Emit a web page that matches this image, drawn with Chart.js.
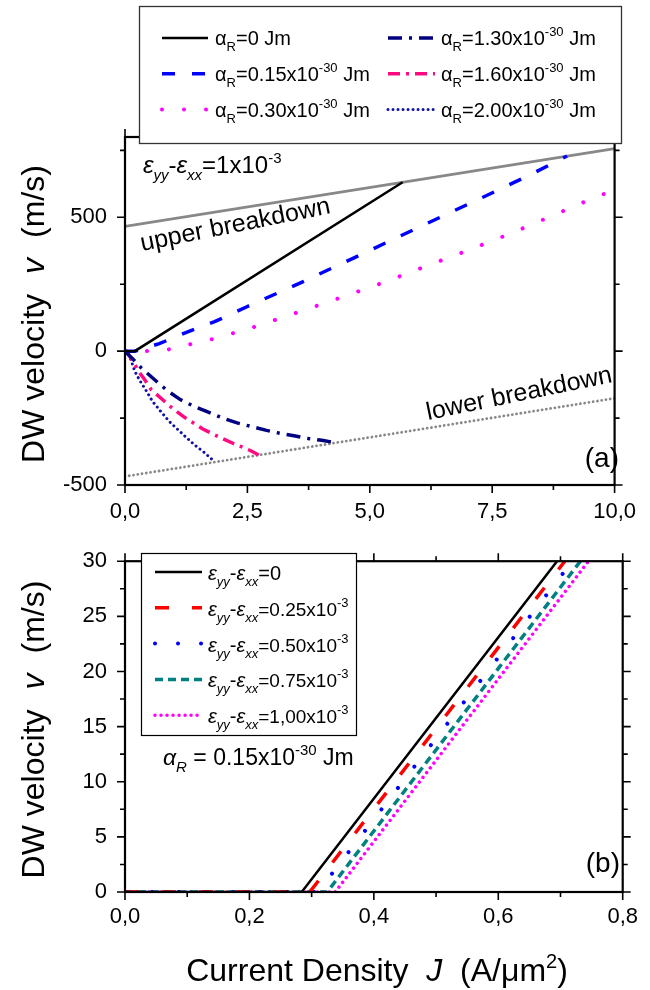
<!DOCTYPE html>
<html><head><meta charset="utf-8">
<script src="https://cdn.jsdelivr.net/npm/chart.js@4.4.1/dist/chart.umd.min.js"></script>
<style>
html,body{margin:0;padding:0;background:#fff;}
#wrap{position:relative;width:650px;height:990px;overflow:hidden;}
#c1{position:absolute;left:0;top:0;}
#c2{position:absolute;left:0;top:530px;}
</style></head>
<body><div id="wrap"><canvas id="c1" width="650" height="530"></canvas><canvas id="c2" width="650" height="460"></canvas></div>
<script>
// ---------------- DATA : panel (a) ----------------
const jA000 = [0, 0.2, 5.67];
const vA000 = [0, 0, 631];
const jA015 = [0, 0.2, 0.7, 1.28, 1.83, 2.49, 3.64, 4.81, 6.04, 7.3, 8.29, 9.03];
const vA015 = [0, 0, 28, 72, 110, 166, 260, 360, 466, 574, 660, 729];
const jA030 = [0, 0.43, 0.88, 1.31, 1.76, 2.19, 2.65, 3.48, 4.39, 5.26, 6.13, 7.04, 7.91, 8.78, 9.65, 10];
const vA030 = [0, 0, 6, 25, 44, 66, 91, 142, 199, 255, 316, 379, 442, 510, 579, 600];
const jA130 = [0, 0.17, 0.33, 0.6, 0.86, 1.13, 1.43, 1.69, 2.01, 2.29, 2.59, 2.89, 3.17, 3.45, 3.74, 4.02, 4.3];
const vA130 = [0, -31, -62, -106, -147, -181, -208, -227, -251, -268, -282, -296, -307, -316, -326, -333, -342];
const jA160 = [0, 0.03, 0.2, 0.3, 0.4, 0.53, 0.73, 0.9, 1.06, 1.23, 1.43, 1.59, 1.79, 1.96, 2.19, 2.39, 2.56, 2.74];
const vA160 = [0, 0, -50, -81, -106, -143, -175, -203, -226, -249, -272, -291, -309, -324, -343, -358, -371, -389];
const jA200 = [0, 0.07, 0.13, 0.2, 0.3, 0.43, 0.56, 0.73, 0.9, 1.08, 1.26, 1.46, 1.63, 1.83];
const vA200 = [0, -12, -37, -75, -109, -147, -187, -225, -262, -293, -324, -356, -380, -413];
const jUpper = [0, 10];
const vUpper = [466, 757];
const jLower = [0, 10];
const vLower = [-468, -176];
const alphaLabels = ['0', '0.15', '0.30', '1.30', '1.60', '2.00'];

const topXTicks = [0, 1.25, 2.5, 3.75, 5, 6.25, 7.5, 8.75, 10];
const topXLabelVals = [0, 2.5, 5, 7.5, 10];
const topXLabels = ['0,0', '2,5', '5,0', '7,5', '10,0'];
const topYTicks = [-500, -250, 0, 250, 500, 750];
const topYLabelVals = [-500, 0, 500];
const topYLabels = ['-500', '0', '500'];

// ---------------- DATA : panel (b) ----------------
const jS000 = [0, 0.284, 0.6945];
const vS000 = [0, 0, 30];
const jS025 = [0, 0.297, 0.707];
const vS025 = [0, 0, 30];
const jS050 = [0, 0.31, 0.719];
const vS050 = [0, 0, 30];
const jS075 = [0, 0.325, 0.732];
const vS075 = [0, 0, 30];
const jS100 = [0, 0.338, 0.745];
const vS100 = [0, 0, 30];
const epsLabels = ['0', '0.25', '0.50', '0.75', '1,00'];

const botXTicks = [0, 0.1, 0.2, 0.3, 0.4, 0.5, 0.6, 0.7, 0.8];
const botXLabelVals = [0, 0.2, 0.4, 0.6, 0.8];
const botXLabels = ['0,0', '0,2', '0,4', '0,6', '0,8'];
const botYTicks = [0, 2.5, 5, 7.5, 10, 12.5, 15, 17.5, 20, 22.5, 25, 27.5, 30];
const botYLabelVals = [0, 5, 10, 15, 20, 25, 30];
const botYLabels = ['0', '5', '10', '15', '20', '25', '30'];

// ---------------- helpers ----------------
const FONT = "'Liberation Sans', Arial, sans-serif";
const pts = (xs, ys) => xs.map((x, i) => ({x: x, y: ys[i]}));

const STY = {
  a0:   {c:'#000000', w:2.5, d:[], cap:'butt'},
  a015: {c:'#0000ff', w:3.5, d:[13,17], cap:'butt'},
  a030: {c:'#ff00ff', w:4, d:[0.01,22], cap:'round'},
  a130: {c:'#000080', w:3.5, d:[14,7,3,7], cap:'butt'},
  a160: {c:'#ff0a80', w:3.5, d:[12,6,3,6], cap:'butt'},
  a200: {c:'#1010a8', w:3, d:[0.01,5], cap:'round'},
  up:   {c:'#888888', w:2.8, d:[], cap:'butt'},
  low:  {c:'#888888', w:2.8, d:[0.01,4.3], cap:'round'},
  s0:   {c:'#000000', w:2.5, d:[], cap:'butt'},
  s025: {c:'#ff0000', w:3.5, d:[14,23], cap:'butt'},
  s050: {c:'#0000ff', w:4, d:[0.01,27], cap:'round', ld:[0.01,23]},
  s075: {c:'#008080', w:3.5, d:[8,5], cap:'butt'},
  s100: {c:'#ff00ff', w:3.5, d:[0.01,6], cap:'round'}
};
function ds(label, data, s) {
  return {label: label, data: data, borderColor: s.c, backgroundColor: s.c, borderWidth: s.w,
    borderDash: s.d, borderCapStyle: s.cap, pointRadius: 0, tension: 0, fill: false};
}
function rich(ctx, x, y, parts) {
  let cx = x;
  for (const p of parts) {
    ctx.font = (p[3] ? 'italic ' : '') + p[1] + 'px ' + FONT;
    ctx.fillText(p[0], cx, y + (p[2] || 0));
    cx += ctx.measureText(p[0]).width;
  }
  return cx;
}
function richWidth(ctx, parts) {
  let w = 0;
  for (const p of parts) { ctx.font = (p[3] ? 'italic ' : '') + p[1] + 'px ' + FONT; w += ctx.measureText(p[0]).width; }
  return w;
}
function sample(ctx, x1, x2, y, s) {
  ctx.save();
  ctx.strokeStyle = s.c; ctx.lineWidth = s.w; ctx.setLineDash(s.ld || s.d); ctx.lineCap = s.cap;
  ctx.beginPath(); ctx.moveTo(x1, y); ctx.lineTo(x2, y); ctx.stroke();
  ctx.restore();
}
function frameAndTicks(chart, xt, xm, yt, ym) {
  const {ctx, chartArea: a, scales: {x, y}} = chart;
  ctx.save();
  ctx.strokeStyle = '#000'; ctx.lineWidth = 1.6; ctx.setLineDash([]);
  ctx.beginPath();
  xt.forEach(v => {
    const p = x.getPixelForValue(v); const L = xm.includes(v) ? 8 : 5;
    ctx.moveTo(p, a.bottom); ctx.lineTo(p, a.bottom + L);
    ctx.moveTo(p, a.top); ctx.lineTo(p, a.top - L);
  });
  yt.forEach(v => {
    const p = y.getPixelForValue(v); const L = ym.includes(v) ? 8 : 5;
    ctx.moveTo(a.left, p); ctx.lineTo(a.left - L, p);
    ctx.moveTo(a.right, p); ctx.lineTo(a.right + L, p);
  });
  ctx.stroke();
  ctx.lineWidth = 2.2;
  ctx.strokeRect(a.left, a.top, a.right - a.left, a.bottom - a.top);
  ctx.restore();
}
function yTitle(ctx, xb, cy) {
  const gap = 20;
  const p1 = [['DW velocity', 32]], p2 = [['v', 32, 0, true]], p3 = [['(m/s)', 32]];
  const w = richWidth(ctx, p1) + gap + richWidth(ctx, p2) + gap + richWidth(ctx, p3);
  ctx.save(); ctx.translate(xb, cy); ctx.rotate(-Math.PI / 2);
  ctx.fillStyle = '#000'; ctx.textBaseline = 'alphabetic'; ctx.textAlign = 'left';
  let cx = -w / 2;
  cx = rich(ctx, cx, 0, p1) + gap;
  cx = rich(ctx, cx, 0, p2) + gap;
  rich(ctx, cx, 0, p3);
  ctx.restore();
}
function scaleOpts(min, max, tickVals, labelVals, labels, isX, pad, fitSize) {
  return {
    type: 'linear', min: min, max: max,
    afterBuildTicks: s => { s.ticks = tickVals.map(v => ({value: v})); },
    afterFit: s => { if (isX) s.height = fitSize; else s.width = fitSize; },
    grid: {display: false, drawTicks: false}, border: {display: false},
    ticks: {autoSkip: false, maxRotation: 0, minRotation: 0, padding: pad, color: '#000',
      font: {family: FONT, size: 22},
      callback: v => { const i = labelVals.indexOf(v); return i >= 0 ? labels[i] : ''; }}
  };
}

// ---------------- panel (a) ----------------
const decorA = {
  id: 'decorA',
  afterDraw(chart) {
    const ctx = chart.ctx;
    frameAndTicks(chart, topXTicks, topXLabelVals, topYTicks, topYLabelVals);
    ctx.save();
    ctx.fillStyle = '#000'; ctx.textBaseline = 'alphabetic'; ctx.textAlign = 'left';
    rich(ctx, 143, 173, [['ε', 24, 0, true], ['yy', 15, 7, true], ['-', 24], ['ε', 24, 0, true], ['xx', 15, 7, true], ['=1x10', 24], ['-3', 15, -10]]);
    ctx.font = '25px ' + FONT;
    ctx.save(); ctx.translate(142, 251); ctx.rotate(-11.3 * Math.PI / 180); ctx.fillText('upper breakdown', 0, 0); ctx.restore();
    ctx.save(); ctx.translate(428, 420); ctx.rotate(-11.6 * Math.PI / 180); ctx.fillText('lower breakdown', 0, 0); ctx.restore();
    ctx.font = '28px ' + FONT; ctx.textAlign = 'right';
    ctx.fillText('(a)', 619, 467);
    ctx.textAlign = 'left';
    yTitle(ctx, 44, 314);
    // legend box
    ctx.fillStyle = '#fff'; ctx.fillRect(139, 6, 483, 138);
    ctx.strokeStyle = '#333'; ctx.lineWidth = 1.3; ctx.strokeRect(139.5, 6.5, 482, 137);
    ctx.fillStyle = '#000';
    const keys = ['a0', 'a015', 'a030', 'a130', 'a160', 'a200'];
    keys.forEach((k, i) => {
      const col = i < 3 ? 0 : 1, row = i % 3;
      const by = 45 + row * 35.8;
      const lx = col === 0 ? 162 : 388, lx2 = col === 0 ? 208 : 435, tx = col === 0 ? 215 : 441;
      sample(ctx, lx, lx2, by - 7, STY[k]);
      const lab = alphaLabels[i];
      const parts = [['α', 20], ['R', 13, 6]];
      if (lab === '0') parts.push(['=0 Jm', 20]);
      else parts.push(['=' + lab + 'x10', 20], ['-30', 13, -9], [' Jm', 20]);
      rich(ctx, tx, by, parts);
    });
    ctx.restore();
  }
};

new Chart(document.getElementById('c1'), {
  type: 'line',
  data: {datasets: [
    ds('αR=0 Jm', pts(jA000, vA000), STY.a0),
    ds('αR=0.15x10-30 Jm', pts(jA015, vA015), STY.a015),
    ds('αR=0.30x10-30 Jm', pts(jA030, vA030), STY.a030),
    ds('αR=1.30x10-30 Jm', pts(jA130, vA130), STY.a130),
    ds('αR=1.60x10-30 Jm', pts(jA160, vA160), STY.a160),
    ds('αR=2.00x10-30 Jm', pts(jA200, vA200), STY.a200),
    ds('upper breakdown', pts(jUpper, vUpper), STY.up),
    ds('lower breakdown', pts(jLower, vLower), STY.low)
  ]},
  options: {
    responsive: false, animation: false, devicePixelRatio: 1,
    layout: {padding: {top: 137, right: 22, left: 0, bottom: 0}},
    plugins: {legend: {display: false}, tooltip: {enabled: false}},
    scales: {
      x: scaleOpts(0, 10, topXTicks, topXLabelVals, topXLabels, true, 14, 45),
      y: scaleOpts(-500, 800, topYTicks, topYLabelVals, topYLabels, false, 18, 125)
    }
  },
  plugins: [decorA]
});

// ---------------- panel (b) ----------------
const decorB = {
  id: 'decorB',
  afterDraw(chart) {
    const ctx = chart.ctx;
    frameAndTicks(chart, botXTicks, botXLabelVals, botYTicks, botYLabelVals);
    ctx.save();
    ctx.fillStyle = '#000'; ctx.textBaseline = 'alphabetic'; ctx.textAlign = 'left';
    rich(ctx, 163, 235, [['α', 23, 0, true], ['R', 15, 7, true], [' = 0.15x10', 23], ['-30', 15, -10], [' Jm', 23]]);
    ctx.font = '28px ' + FONT; ctx.textAlign = 'right';
    ctx.fillText('(b)', 620, 342);
    ctx.textAlign = 'left';
    yTitle(ctx, 44, 199.5);
    const xt = [['Current Density', 32], ['  ', 32], ['J', 32, 0, true], ['  ', 32], ['(A/μm', 32], ['2', 20, -13], [')', 32]];
    const w = richWidth(ctx, xt);
    rich(ctx, 377 - w / 2, 451, xt);
    // legend
    ctx.fillStyle = '#fff'; ctx.fillRect(141, 23, 216, 183);
    ctx.strokeStyle = '#000'; ctx.lineWidth = 1.2; ctx.strokeRect(141.5, 23.5, 215, 182);
    ctx.fillStyle = '#000';
    const keys = ['s0', 's025', 's050', 's075', 's100'];
    keys.forEach((k, i) => {
      const by = 50 + i * 35.8;
      sample(ctx, 155, 202, by - 8, STY[k]);
      const lab = epsLabels[i];
      const parts = [['ε', 20, 0, true], ['yy', 13, 6, true], ['-', 20], ['ε', 20, 0, true], ['xx', 13, 6, true]];
      if (lab === '0') parts.push(['=0', 20]);
      else parts.push(['=' + lab + 'x10', 19], ['-3', 13, -9]);
      rich(ctx, 208, by, parts);
    });
    ctx.restore();
  }
};

new Chart(document.getElementById('c2'), {
  type: 'line',
  data: {datasets: [
    ds('εyy-εxx=0', pts(jS000, vS000), STY.s0),
    ds('εyy-εxx=0.25x10-3', pts(jS025, vS025), STY.s025),
    ds('εyy-εxx=0.50x10-3', pts(jS050, vS050), STY.s050),
    ds('εyy-εxx=0.75x10-3', pts(jS075, vS075), STY.s075),
    ds('εyy-εxx=1,00x10-3', pts(jS100, vS100), STY.s100)
  ]},
  options: {
    responsive: false, animation: false, devicePixelRatio: 1,
    layout: {padding: {top: 14, right: 22, left: 0, bottom: 0}},
    plugins: {legend: {display: false}, tooltip: {enabled: false}},
    scales: {
      x: scaleOpts(0, 0.8, botXTicks, botXLabelVals, botXLabels, true, 12, 98),
      y: scaleOpts(0, 30, botYTicks, botYLabelVals, botYLabels, false, 18, 125)
    }
  },
  plugins: [decorB]
});
</script>
</body></html>
